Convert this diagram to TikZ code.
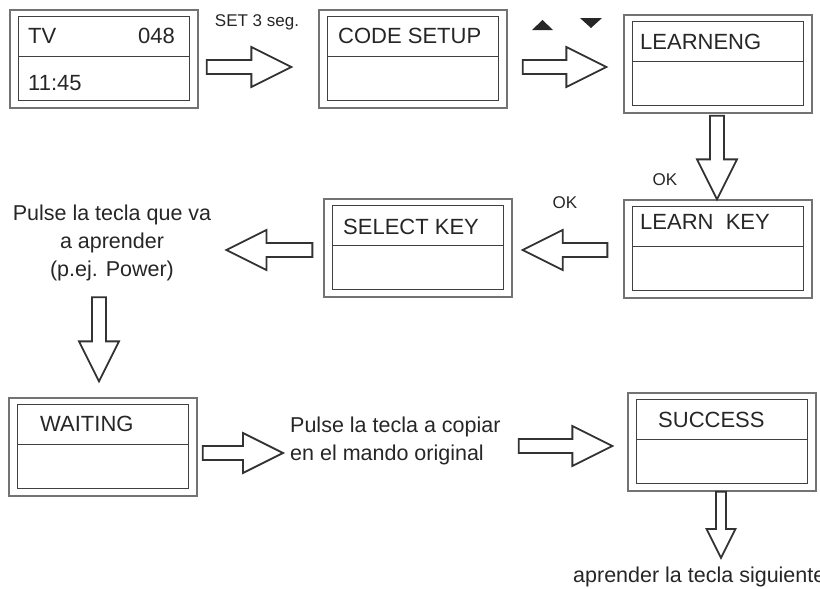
\documentclass[tikz,border=0pt]{standalone}
\usepackage{fontspec}
\setmainfont{Liberation Sans}
\usetikzlibrary{calc}

\tikzset{
	lcdframe/.style={draw=black!55, line width=1.3pt, minimum width=188pt, minimum height=98pt, inner sep=0pt},
	lcdline/.style={draw=black!75, line width=1.6pt},
	lcdtext/.style={anchor=west, inner sep=0pt, text=black!85, font=\fontsize{22}{26}\selectfont},
	notetext/.style={inner sep=0pt, text=black!85, font=\fontsize{21.5}{28}\selectfont},
	hinttext/.style={inner sep=0pt, text=black!85, font=\fontsize{17}{20}\selectfont},
	fatarrow/.style={draw=black!80, line width=1.8pt, fill=white, line join=miter}
}

% display with frame, inner frame and divider
\newcommand\lcdpanel[3]{%
	\node[lcdframe] (#1) at (#2,#3) {};
	\draw[lcdline] ($(#1.north west)+(9,7)$) rectangle ($(#1.south east)+(-9,-8)$);
	\draw[lcdline] ($(#1.north west)+(9,47)$) -- ($(#1.north east)+(-9,47)$);
}

% hollow block arrow from #2 to #3, #1 = size factor
\newcommand\blockarrow[3][1]{%
	\coordinate (ba-s) at #2;
	\coordinate (ba-e) at #3;
	\coordinate (ba-h) at ($(ba-e)!40pt*#1!(ba-s)$);
	\draw[fatarrow] ($(ba-s)!7pt*#1!90:(ba-e)$) -- ($(ba-h)!7pt*#1!90:(ba-e)$)
		-- ($(ba-h)!20pt*#1!90:(ba-e)$) -- (ba-e)
		-- ($(ba-h)!20pt*#1!-90:(ba-e)$) -- ($(ba-h)!7pt*#1!-90:(ba-e)$)
		-- ($(ba-s)!7pt*#1!-90:(ba-e)$) -- cycle;
}

\begin{document}
\begin{tikzpicture}[x=1pt, y=-1pt]
		\useasboundingbox (0,0) rectangle (820,589);

		\lcdpanel{tv}{104}{59}
		\lcdpanel{code}{413}{59}
		\lcdpanel{learn}{718}{64}
		\lcdpanel{lkey}{718}{249}
		\lcdpanel{skey}{418}{248}
		\lcdpanel{wait}{103}{447}
		\lcdpanel{succ}{722}{442}

		\node[lcdtext] (tv-ch) at (28,36) {TV};
		\node[lcdtext, anchor=east] (tv-num) at (175,36) {048};
		\node[lcdtext] (tv-time) at (28,83) {11:45};
		\node[lcdtext] (code-l) at (338,36) {CODE SETUP};
		\node[lcdtext] (learn-l) at (640,42) {LEARNENG};
		\node[lcdtext] (lkey-l) at (640,222) {LEARN\ \ KEY};
		\node[lcdtext] (skey-l) at (343,227) {SELECT KEY};
		\node[lcdtext] (wait-l) at (40,424) {WAITING};
		\node[lcdtext] (succ-l) at (658,420) {SUCCESS};

		\node[hinttext] (set) at (257,22) {SET 3 seg.};
		\fill[black!85] (532,30) -- (553,30) -- (542.5,20) -- cycle;
		\fill[black!85] (580,18) -- (602,18) -- (591,28) -- cycle;
		\node[hinttext] (ok1) at (665,180) {OK};
		\node[hinttext] (ok2) at (565,203) {OK};

		\node[notetext, align=center] (pick) at (112,243) {Pulse la tecla que va\\a aprender\\(p.ej. Power)};
		\node[notetext, align=left, anchor=west] (copy) at (290,441) {Pulse la tecla a copiar\\en el mando original};
		\node[notetext, anchor=west] (next) at (573,577) {aprender la tecla siguiente};

		\blockarrow{($(tv.east)+(8,8)$)}{($(code.west)+(-27,8)$)}
		\blockarrow{($(code.east)+(15,8)$)}{($(learn.west)+(-17,3)$)}
		\blockarrow{($(learn.south)+(-1,2)$)}{($(lkey.north)+(-1,0)$)}
		\blockarrow{($(lkey.west)+(-16,1)$)}{($(skey.east)+(10,2)$)}
		\blockarrow{($(skey.west)+(-11,2)$)}{($(pick.east)+(15,7)$)}
		\blockarrow{($(pick.south)+(-13,16)$)}{($(wait.north)+(-4,-16)$)}
		\blockarrow{($(wait.east)+(5,6)$)}{($(copy.west)+(-7,12)$)}
		\blockarrow{($(copy.east)+(18,5)$)}{($(succ.west)+(-15,4)$)}
		\blockarrow[0.72]{($(succ.south)+(-1,0)$)}{($(succ.south |- next.north)+(-1,-9)$)}
	\end{tikzpicture}
\end{document}
